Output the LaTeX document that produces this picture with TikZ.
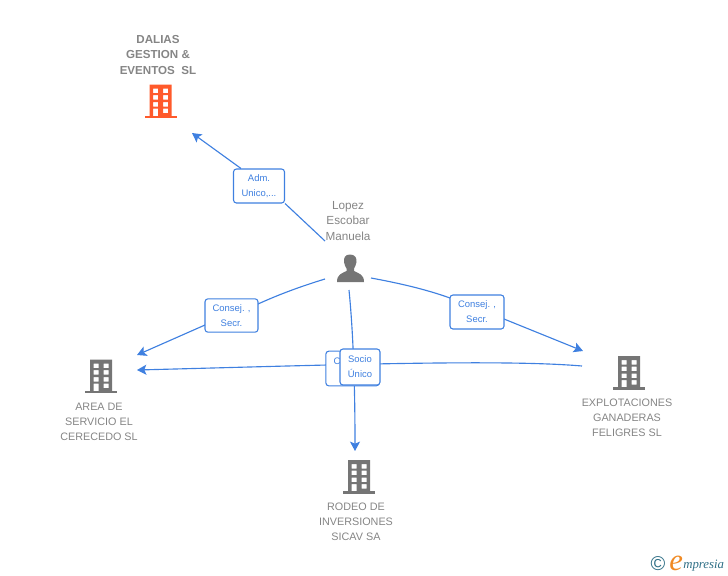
\documentclass[tikz,border=0pt]{standalone}
\usepackage{fontspec}
\setmainfont{Liberation Sans}
\newfontfamily\logoserif{Liberation Serif}
\usetikzlibrary{arrows.meta}
\definecolor{linkblue}{HTML}{3F80E0}
\definecolor{txtgray}{HTML}{858585}
\definecolor{icongray}{HTML}{757575}
\definecolor{iconorange}{HTML}{FF5A2B}
\definecolor{logoteal}{HTML}{2F6F86}
\definecolor{logoorange}{HTML}{F08A24}
\frenchspacing
\tikzset{
  link/.style={draw=linkblue,line width=0.85pt},
  linkarrow/.style={link,-{Stealth[length=7pt,width=7.5pt,inset=1.5pt]}},
  rolebox/.style={draw=linkblue,line width=0.8pt,rounded corners=2.2pt,fill=white,text=linkblue,
    font=\fontsize{7.1pt}{11.3pt}\selectfont,align=center,inner sep=0pt,text width=#1,minimum height=25.5pt},
  rolebox/.default=38pt,
  lab/.style={text=txtgray,font=\fontsize{8.1pt}{11.3pt}\selectfont,align=center,inner sep=0pt},
  pics/bldg/.style={code={
    \fill[#1] (-16,-0.2) rectangle (16,-2.6);
    \fill[#1,even odd rule] (-11,-2) rectangle (11,-34)
      (-7.5,-30) rectangle (-2.5,-25.5) (2.5,-30) rectangle (7.5,-25.5)
      (-7.5,-23.5) rectangle (-2.5,-19) (2.5,-23.5) rectangle (7.5,-19)
      (-7.5,-16.5) rectangle (-2.5,-12) (2.5,-16.5) rectangle (7.5,-12)
      (-7.5,-10) rectangle (-2.5,-2) (2.5,-10) rectangle (7.5,-5.5);
  }}
}
\begin{document}
\begin{tikzpicture}[x=0.75pt,y=-0.75pt]
\useasboundingbox (0,0) rectangle (728,575);
% anchors
\coordinate (pAdm) at (325,241);
\coordinate (aAdm) at (192,133);
\coordinate (pL) at (325,279);
\coordinate (aL) at (137,355);
\coordinate (pR) at (371,278);
\coordinate (aR) at (583,351);
\coordinate (pS) at (349,290);
\coordinate (aS) at (355,451);
\coordinate (eH) at (582,366);
\coordinate (aH) at (137,370);
% role boxes (text drawn later, so that connectors stay underneath)
\path node[rolebox=38.25pt,minimum height=25.5pt,draw=none,fill=none] (boxAdm) at (259,186) {}
      node[rolebox=39.75pt,minimum height=25pt,draw=none,fill=none] (boxL) at (231.5,315.5) {}
      node[rolebox=40.5pt,minimum height=25.5pt,draw=none,fill=none] (boxR) at (477,312) {};
% connectors
\draw[link] (pAdm) -- (boxAdm.south east);
\draw[linkarrow] (boxAdm.north west) ++(8,0) -- (aAdm);
\draw[link] (pL) .. controls (302,286) and (280,294) .. (258,304);
\draw[linkarrow] (205,325) -- (aL);
\draw[link] (pR) .. controls (398,283) and (425,289) .. (450,298);
\draw[linkarrow] (504,319) -- (aR);
\draw[linkarrow] (pS) .. controls (354,340) and (355,400) .. (aS);
\draw[linkarrow] (eH) .. controls (500,359) and (330,365) .. (aH);
% role boxes
\node[rolebox=38.25pt,minimum height=25.5pt] at (boxAdm) {Adm.\\Unico,...};
\node[rolebox=39.75pt,minimum height=25pt] at (boxL) {Consej. ,\\Secr.};
\node[rolebox=40.5pt,minimum height=25.5pt] at (boxR) {Consej. ,\\Secr.};
\node[rolebox=40pt,minimum height=26pt] (boxC) at (352.5,368.5) {Consej. ,\\Secr.};
\node[rolebox=30pt,minimum height=27pt] (boxS) at (360,367) {Socio\\Único};
% entities
\node[lab,font=\bfseries\fontsize{8.7pt}{11.3pt}\selectfont] (tDal) at (158,55) {DALIAS\\GESTION \&\\EVENTOS\ \ SL};
\pic (iDal) at (160.5,118.5) {bldg=iconorange};
\node[lab,font=\fontsize{8.8pt}{11.3pt}\selectfont] (tLop) at (348,221) {Lopez\\Escobar\\Manuela};
\fill[icongray] (350,254.5) .. controls (345,254.5) and (343.5,258) .. (344,262)
  .. controls (344.5,265) and (345.5,267) .. (346.5,268.5) -- (346.5,271)
  .. controls (342,273.5) and (337,274) .. (337,282) -- (364,282)
  .. controls (364,274) and (358.5,273.5) .. (354,271) -- (354,268.5)
  .. controls (355,267) and (356,265) .. (356.5,262)
  .. controls (357,258) and (355,254.5) .. (350,254.5) -- cycle;
\pic (iAre) at (101,393.5) {bldg=icongray};
\node[lab] (tAre) at (99,422) {AREA DE\\SERVICIO EL\\CERECEDO SL};
\pic (iExp) at (629,390) {bldg=icongray};
\node[lab] (tExp) at (627,418) {EXPLOTACIONES\\GANADERAS\\FELIGRES SL};
\pic (iRod) at (359,494) {bldg=icongray};
\node[lab] (tRod) at (356,522) {RODEO DE\\INVERSIONES\\SICAV SA};
% logo
\node[inner sep=0pt,text=logoteal,font=\fontsize{15pt}{15pt}\selectfont] (logoC) at (658,564) {©};
\node[inner sep=0pt,anchor=base west,text=logoorange,font=\logoserif\itshape\fontsize{23pt}{23pt}\selectfont] (logoE) at (669,570) {e};
\node[inner sep=0pt,anchor=base west,text=logoteal,font=\logoserif\itshape\fontsize{9.6pt}{10pt}\selectfont] (logoM) at (683,568) {mpresia};
\end{tikzpicture}
\end{document}
